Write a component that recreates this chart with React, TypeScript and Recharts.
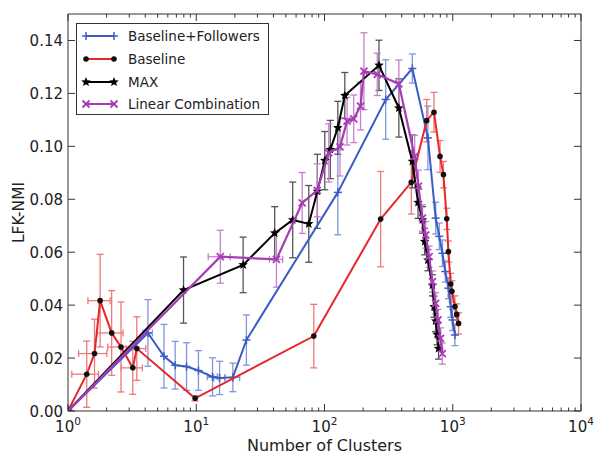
import React from 'react';
import { ComposedChart, Scatter, XAxis, YAxis, ErrorBar, Legend } from 'recharts';

// Baseline+Followers
const bfX = [1, 4.2, 5.6, 6.85, 8.4, 10.4, 13.4, 15.2, 19.3, 24.6, 127, 300, 484, 640, 736, 785, 831, 875, 925, 965, 995, 1040];
const bfY = [0, 0.0295, 0.0207, 0.0173, 0.0168, 0.0153, 0.0129, 0.0125, 0.0127, 0.0268, 0.0826, 0.1177, 0.1294, 0.1032, 0.0729, 0.066, 0.0596, 0.0527, 0.0464, 0.0394, 0.0344, 0.0287];
const bfEy = [0, 0.0126, 0.012, 0.009, 0.009, 0.0075, 0.0072, 0.0063, 0.0054, 0.0095, 0.016, 0.015, 0.0055, 0.012, 0.006, 0.005, 0.005, 0.004, 0.004, 0.004, 0.004, 0.004];
const bfEx = [0, 0.35, 0, 0, 0, 0, 1.2, 1.5, 2.5, 0, 0, 0, 0, 0, 0, 0, 0, 0, 0, 0, 0, 0];

// Baseline
const bX = [1, 1.4, 1.61, 1.78, 2.19, 2.59, 3.2, 3.44, 9.8, 82.5, 274, 475, 626, 714, 796, 846, 898, 925, 965, 985, 1040, 1075, 1110];
const bY = [0, 0.0139, 0.0217, 0.0417, 0.0295, 0.0242, 0.0163, 0.0236, 0.0048, 0.0283, 0.0725, 0.0864, 0.1097, 0.1129, 0.0962, 0.0893, 0.0726, 0.0602, 0.048, 0.0452, 0.0395, 0.0365, 0.0331];
const bEy = [0, 0.0125, 0.013, 0.0175, 0.016, 0.017, 0.01, 0.012, 0.001, 0.012, 0.018, 0.012, 0.008, 0.0075, 0.006, 0.005, 0.004, 0.004, 0.004, 0.004, 0.004, 0.004, 0.004];
const bEx = [0, 0.33, 0.4, 0.35, 0.5, 0.55, 0.6, 0.6, 0, 0, 0, 0, 0, 0, 0, 0, 0, 0, 0, 0, 0, 0, 0];

// MAX
const mX = [1, 7.96, 23.2, 40.9, 56.5, 75.4, 88, 100.5, 111, 127, 144, 266, 380, 484, 536, 580, 604, 640, 694, 714, 736, 755, 775];
const mY = [0, 0.0457, 0.0552, 0.0672, 0.0722, 0.0707, 0.083, 0.0946, 0.0988, 0.107, 0.1192, 0.1306, 0.1145, 0.0943, 0.0788, 0.0722, 0.064, 0.057, 0.0475, 0.0394, 0.034, 0.029, 0.0236];
const mEy = [0, 0.0125, 0.0105, 0.01, 0.0143, 0.0145, 0.014, 0.011, 0.011, 0.01, 0.0087, 0.0095, 0.011, 0.01, 0.006, 0.005, 0.005, 0.004, 0.004, 0.004, 0.004, 0.004, 0.004];

// Linear Combination
const lX = [1, 15.4, 42.2, 67, 87.7, 108, 132, 150, 169, 191, 203, 258, 380, 505, 540, 580, 615, 654, 694, 736, 767, 803, 828];
const lY = [0, 0.0583, 0.0573, 0.0786, 0.0834, 0.0975, 0.0998, 0.1095, 0.1104, 0.1152, 0.1284, 0.1272, 0.1236, 0.0962, 0.085, 0.0729, 0.0665, 0.0583, 0.0489, 0.0407, 0.0344, 0.0274, 0.0217];
const lEy = [0, 0.01, 0.0105, 0.0115, 0.01, 0.011, 0.011, 0.009, 0.009, 0.009, 0.0145, 0.008, 0.009, 0.008, 0.006, 0.005, 0.005, 0.004, 0.004, 0.004, 0.004, 0.004, 0.004];
const lEx = [0, 3, 5, 0, 0, 0, 0, 0, 0, 0, 0, 0, 0, 0, 0, 0, 0, 0, 0, 0, 0, 0, 0];

const xMajor = [1, 10, 100, 1000, 10000];
const xMinorMult = [2, 3, 4, 5, 6, 7, 8, 9];
const yTicks = [0, 0.02, 0.04, 0.06, 0.08, 0.1, 0.12, 0.14];

const seriesNames = ['Baseline+Followers', 'Baseline', 'MAX', 'Linear Combination'];

const BLUE = '#3c5cc4';
const RED = '#e8262b';
const BLACK = '#000000';
const PURPLE = '#a63db4';
const FONT = 'DejaVu Sans, sans-serif';

const build = (xs: number[], ys: number[], ey: number[], ex?: number[]) =>
  xs.map((x, i) => ({ x, y: ys[i], ey: ey[i], ex: ex ? ex[i] : 0 }));

const bfData = build(bfX, bfY, bfEy, bfEx);
const bData = build(bX, bY, bEy, bEx);
const mData = build(mX, mY, mEy);
const lData = build(lX, lY, lEy, lEx);

const xTicksAll: number[] = [];
xMajor.forEach((m, i) => {
  xTicksAll.push(m);
  if (i < xMajor.length - 1) xMinorMult.forEach((k) => xTicksAll.push(m * k));
});

const isMajor = (v: number) => {
  const e = Math.round(Math.log10(v));
  return Math.abs(Math.log10(v) - e) < 1e-9;
};

const Plus = ({ cx, cy, color, r = 4 }: any) => (
  <g>
    <line x1={cx - r} x2={cx + r} y1={cy} y2={cy} stroke={color} strokeWidth={1.5} />
    <line x1={cx} x2={cx} y1={cy - r} y2={cy + r} stroke={color} strokeWidth={1.5} />
  </g>
);
const Dot = ({ cx, cy }: any) => <circle cx={cx} cy={cy} r={2.8} fill="#111" />;
const starPath = (cx: number, cy: number, R: number, r: number) => {
  let d = '';
  for (let i = 0; i < 10; i++) {
    const rad = i % 2 === 0 ? R : r;
    const a = -Math.PI / 2 + (i * Math.PI) / 5;
    d += (i === 0 ? 'M' : 'L') + (cx + rad * Math.cos(a)).toFixed(2) + ',' + (cy + rad * Math.sin(a)).toFixed(2);
  }
  return d + 'Z';
};
const Star = ({ cx, cy }: any) => <path d={starPath(cx, cy, 5, 2.2)} fill="#000" />;
const Cross = ({ cx, cy, color, r = 3.5 }: any) => (
  <g>
    <line x1={cx - r} x2={cx + r} y1={cy - r} y2={cy + r} stroke={color} strokeWidth={1.8} />
    <line x1={cx - r} x2={cx + r} y1={cy + r} y2={cy - r} stroke={color} strokeWidth={1.8} />
  </g>
);

const BottomTick = (props: any) => {
  const { x, y, payload } = props;
  const v = payload.value;
  const major = isMajor(v);
  const e = Math.round(Math.log10(v));
  return (
    <g>
      <line x1={x} x2={x} y1={y} y2={y - (major ? 7 : 3.5)} stroke="#333" strokeWidth={1} />
      {major && (
        <text x={x} y={y + 21} textAnchor="middle" fontSize={15} fill="#222" fontFamily={FONT}>
          10<tspan dy={-7} fontSize={10.5}>{e}</tspan>
        </text>
      )}
    </g>
  );
};
const TopTick = (props: any) => {
  const { x, y, payload } = props;
  const major = isMajor(payload.value);
  return <line x1={x} x2={x} y1={y} y2={y + (major ? 7 : 3.5)} stroke="#333" strokeWidth={1} />;
};
const LeftTick = (props: any) => {
  const { x, y, payload } = props;
  return (
    <g>
      <line x1={x} x2={x + 7} y1={y} y2={y} stroke="#333" strokeWidth={1} />
      <text x={x - 5} y={y} dy={5.5} textAnchor="end" fontSize={15} fill="#222" fontFamily={FONT}>
        {payload.value.toFixed(2)}
      </text>
    </g>
  );
};
const RightTick = (props: any) => {
  const { x, y } = props;
  return <line x1={x} x2={x - 7} y1={y} y2={y} stroke="#333" strokeWidth={1} />;
};

const legendMarkers = [
  (cx: number, cy: number) => <Plus cx={cx} cy={cy} color={BLUE} />,
  (cx: number, cy: number) => <Dot cx={cx} cy={cy} />,
  (cx: number, cy: number) => <Star cx={cx} cy={cy} />,
  (cx: number, cy: number) => <Cross cx={cx} cy={cy} color={PURPLE} />,
];
const legendColors = [BLUE, RED, BLACK, PURPLE];

const LegendBox = () => (
  <div
    style={{
      width: 193,
      height: 92,
      boxSizing: 'border-box',
      border: '1.3px solid #333',
      background: '#fff',
      position: 'relative',
      fontFamily: FONT,
    }}
  >
    {seriesNames.map((n, i) => (
      <div key={n} style={{ position: 'absolute', left: 0, top: 12 + i * 22.8 - 8, height: 16, width: 193 }}>
        <svg width={40} height={16} style={{ position: 'absolute', left: 4, top: 0 }}>
          <line x1={5} x2={33} y1={8} y2={8} stroke={legendColors[i]} strokeWidth={2} />
          {legendMarkers[i](5, 8)}
          {legendMarkers[i](33, 8)}
        </svg>
        <span
          style={{
            position: 'absolute',
            left: 51,
            top: -1,
            fontSize: 13.5,
            lineHeight: '18px',
            color: '#222',
            whiteSpace: 'nowrap',
          }}
        >
          {n}
        </span>
      </div>
    ))}
  </div>
);

export default function App() {
  return (
    <div style={{ position: 'absolute', left: 0, top: 0, width: 596, height: 454, background: '#fff', fontFamily: FONT }}>
      <ComposedChart width={596} height={454} margin={{ top: 13, right: 14, bottom: 13, left: 8 }}>
        <XAxis
          xAxisId="b"
          type="number"
          dataKey="x"
          scale="log"
          domain={[1, 10000]}
          allowDataOverflow
          ticks={xTicksAll}
          interval={0}
          tickSize={0}
          tickMargin={0}
          height={30}
          axisLine={{ stroke: '#333', strokeWidth: 1 }}
          tickLine={false}
          tick={<BottomTick />}
          label={{
            content: (p: any) => {
              const vb = p.viewBox || { x: 68, y: 411, width: 513 };
              return (
                <text x={vb.x + vb.width / 2} y={vb.y + 40} textAnchor="middle" fontSize={16} fill="#222" fontFamily={FONT}>
                  Number of Clusters
                </text>
              );
            },
          }}
        />
        <XAxis
          xAxisId="t"
          orientation="top"
          type="number"
          dataKey="x"
          scale="log"
          domain={[1, 10000]}
          allowDataOverflow
          ticks={xTicksAll}
          interval={0}
          tickSize={0}
          tickMargin={0}
          height={1}
          axisLine={{ stroke: '#333', strokeWidth: 1 }}
          tickLine={false}
          tick={<TopTick />}
        />
        <YAxis
          yAxisId="l"
          type="number"
          dataKey="y"
          domain={[0, 0.15]}
          allowDataOverflow
          ticks={yTicks}
          interval={0}
          tickSize={0}
          tickMargin={0}
          width={60}
          axisLine={{ stroke: '#333', strokeWidth: 1 }}
          tickLine={false}
          tick={<LeftTick />}
          label={{
            content: (p: any) => {
              const vb = p.viewBox || { x: 8, y: 14, height: 397 };
              const cx = 24;
              const cy = vb.y + vb.height / 2;
              return (
                <text x={cx} y={cy} transform={`rotate(-90, ${cx}, ${cy})`} textAnchor="middle" fontSize={15.5} fill="#222" fontFamily={FONT}>
                  LFK-NMI
                </text>
              );
            },
          }}
        />
        <YAxis
          yAxisId="r"
          orientation="right"
          type="number"
          dataKey="y"
          domain={[0, 0.15]}
          allowDataOverflow
          ticks={yTicks}
          interval={0}
          tickSize={0}
          tickMargin={0}
          width={1}
          axisLine={{ stroke: '#333', strokeWidth: 1 }}
          tickLine={false}
          tick={<RightTick />}
        />
        <Scatter
          name={seriesNames[0]}
          data={bfData}
          xAxisId="b"
          yAxisId="l"
          dataKey="y"
          line={{ stroke: BLUE, strokeWidth: 2 }}
          lineType="joint"
          fill={BLUE}
          isAnimationActive={false}
          shape={(p: any) => <Plus cx={p.cx} cy={p.cy} color={BLUE} />}
        >
          <ErrorBar dataKey="ey" direction="y" width={3.5} stroke="#7f97dc" strokeWidth={1.3} />
          <ErrorBar dataKey="ex" direction="x" width={3.5} stroke="#7f97dc" strokeWidth={1.3} />
        </Scatter>
        <Scatter
          name={seriesNames[1]}
          data={bData}
          xAxisId="b"
          yAxisId="l"
          dataKey="y"
          line={{ stroke: RED, strokeWidth: 2 }}
          lineType="joint"
          fill={RED}
          isAnimationActive={false}
          shape={(p: any) => <Dot cx={p.cx} cy={p.cy} />}
        >
          <ErrorBar dataKey="ey" direction="y" width={3.5} stroke="#ef7878" strokeWidth={1.3} />
          <ErrorBar dataKey="ex" direction="x" width={3.5} stroke="#ef7878" strokeWidth={1.3} />
        </Scatter>
        <Scatter
          name={seriesNames[2]}
          data={mData}
          xAxisId="b"
          yAxisId="l"
          dataKey="y"
          line={{ stroke: BLACK, strokeWidth: 2 }}
          lineType="joint"
          fill={BLACK}
          isAnimationActive={false}
          shape={(p: any) => <Star cx={p.cx} cy={p.cy} />}
        >
          <ErrorBar dataKey="ey" direction="y" width={3.5} stroke="#555" strokeWidth={1.3} />
        </Scatter>
        <Scatter
          name={seriesNames[3]}
          data={lData}
          xAxisId="b"
          yAxisId="l"
          dataKey="y"
          line={{ stroke: PURPLE, strokeWidth: 2.2 }}
          lineType="joint"
          fill={PURPLE}
          isAnimationActive={false}
          shape={(p: any) => <Cross cx={p.cx} cy={p.cy} color={PURPLE} />}
        >
          <ErrorBar dataKey="ey" direction="y" width={3.5} stroke="#c77fd0" strokeWidth={1.3} />
          <ErrorBar dataKey="ex" direction="x" width={3.5} stroke="#c77fd0" strokeWidth={1.3} />
        </Scatter>
        <Legend
          layout="vertical"
          align="center"
          verticalAlign="middle"
          content={() => <LegendBox />}
          wrapperStyle={{ left: 76, top: 23, width: 193, height: 92 }}
        />
      </ComposedChart>
    </div>
  );
}
